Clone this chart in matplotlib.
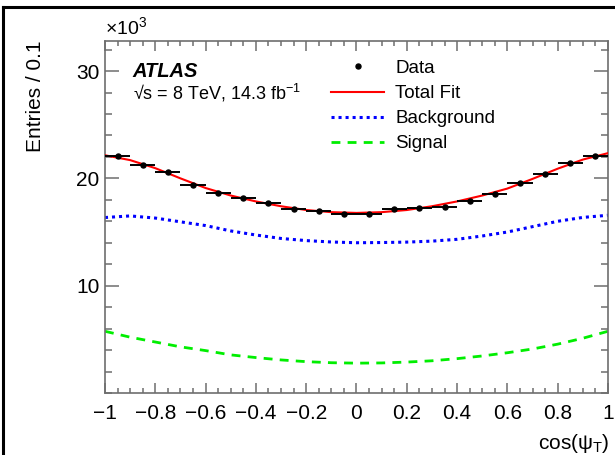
import matplotlib
matplotlib.use('Agg')
import matplotlib.pyplot as plt
from matplotlib.lines import Line2D
from matplotlib.ticker import FixedLocator, MultipleLocator

plt.rcParams['font.family'] = ['Liberation Sans', 'DejaVu Sans']
plt.rcParams['mathtext.fontset'] = 'custom'
plt.rcParams['mathtext.rm'] = 'Liberation Sans'
plt.rcParams['mathtext.it'] = 'Liberation Sans:italic'

# data points (bin centres, entries in units of 10^3)
bin_centres = [-0.95, -0.85, -0.75, -0.65, -0.55, -0.45, -0.35, -0.25, -0.15, -0.05,
               0.05, 0.15, 0.25, 0.35, 0.45, 0.55, 0.65, 0.75, 0.85, 0.95]
entries = [22.06, 21.27, 20.56, 19.40, 18.64, 18.15, 17.66, 17.19, 16.94, 16.69,
           16.67, 17.10, 17.22, 17.34, 17.90, 18.52, 19.54, 20.40, 21.42, 22.06]
entry_err = [0.13] * 20
bin_halfwidth = [0.05] * 20

# fit curves
curve_x = [-1.0, -0.9, -0.8, -0.7, -0.6, -0.5, -0.4, -0.3, -0.2, -0.1, 0.0,
           0.1, 0.2, 0.3, 0.4, 0.5, 0.6, 0.7, 0.8, 0.9, 1.0]
total_fit = [22.15, 21.70, 20.95, 20.00, 19.10, 18.40, 17.85, 17.40, 17.05, 16.85, 16.78,
             16.85, 17.05, 17.40, 17.85, 18.40, 19.05, 19.95, 20.90, 21.75, 22.35]
background = [16.35, 16.50, 16.30, 15.95, 15.60, 15.10, 14.72, 14.40, 14.20, 14.07, 14.00,
              14.02, 14.06, 14.15, 14.32, 14.63, 15.00, 15.50, 16.00, 16.36, 16.56]
signal = [5.75, 5.20, 4.75, 4.30, 3.95, 3.55, 3.30, 3.08, 2.92, 2.82, 2.78,
          2.80, 2.88, 3.00, 3.20, 3.45, 3.75, 4.10, 4.55, 5.10, 5.75]

x_ticks = [-1, -0.8, -0.6, -0.4, -0.2, 0, 0.2, 0.4, 0.6, 0.8, 1]
x_tick_labels = ['\u22121', '\u22120.8', '\u22120.6', '\u22120.4', '\u22120.2', '0',
                 '0.2', '0.4', '0.6', '0.8', '1']
y_ticks = [10, 20, 30]

fig = plt.figure(figsize=(6.15, 4.55), dpi=100)
ax = fig.add_axes([0.1707, 0.1363, 0.8179, 0.7736])

ax.errorbar(bin_centres, entries, xerr=bin_halfwidth, yerr=entry_err, fmt='o',
            color='black', ms=3.6, elinewidth=1.4, capsize=0, zorder=5)
ax.plot(curve_x, total_fit, color='#ff0000', lw=1.5, zorder=4)
ax.plot(curve_x, background, color='#0000ff', lw=2.2, linestyle=(0, (1.0, 1.3)))
ax.plot(curve_x, signal, color='#00ee00', lw=2.0, linestyle=(0, (3.2, 2.6)))

ax.set_xlim(-1, 1)
ax.set_ylim(0, 32.8)
ax.xaxis.set_major_locator(FixedLocator(x_ticks))
ax.set_xticklabels(x_tick_labels)
ax.xaxis.set_minor_locator(MultipleLocator(0.05))
ax.yaxis.set_major_locator(FixedLocator(y_ticks))
ax.yaxis.set_minor_locator(MultipleLocator(2))

gray = '#6e6e6e'
for s in ax.spines.values():
    s.set_color(gray)
    s.set_linewidth(1.2)
ax.tick_params(axis='both', which='both', direction='in', top=True, right=True,
               color=gray, width=1.1, labelsize=15, labelcolor='black')
ax.tick_params(axis='x', which='major', length=7.2, pad=8)
ax.tick_params(axis='x', which='minor', length=3.6)
ax.tick_params(axis='y', which='major', length=10, pad=4)
ax.tick_params(axis='y', which='minor', length=5)

ax.set_ylabel('Entries / 0.1', fontsize=15)
ax.yaxis.set_label_coords(-0.157, 1.0)
ax.yaxis.label.set_va('top')
ax.yaxis.label.set_ha('right')
ax.set_xlabel('cos(\u03c8$_{\\mathrm{T}}$)', fontsize=15)
ax.xaxis.set_label_coords(1.004, -0.143)
ax.xaxis.label.set_ha('right')
ax.xaxis.label.set_va('center')

ax.text(0.0, 1.008, r'$\times$10$^{3}$', transform=ax.transAxes, fontsize=14,
        ha='left', va='bottom')
ax.text(0.055, 0.912, 'ATLAS', transform=ax.transAxes, fontsize=14.5,
        fontweight='bold', fontstyle='italic', va='center')
ax.text(0.055, 0.853, '\u221as = 8 TeV, 14.3 fb$^{-1}$', transform=ax.transAxes,
        fontsize=13, va='center')

handles = [
    Line2D([], [], color='black', marker='o', ms=3.6, linestyle='none'),
    Line2D([], [], color='#ff0000', lw=1.5),
    Line2D([], [], color='#0000ff', lw=2.2, linestyle=(0, (1.0, 1.3))),
    Line2D([], [], color='#00ee00', lw=2.0, linestyle=(0, (3.2, 2.6))),
]
labels = ['Data', 'Total Fit', 'Background', 'Signal']
ax.legend(handles, labels, loc='upper left', bbox_to_anchor=(0.435, 0.968),
          frameon=False, fontsize=13.5, handlelength=2.8, handletextpad=0.6,
          labelspacing=0.43, borderaxespad=0)

# screenshot frame
fig.add_artist(Line2D([3 / 615, 1.0], [1 - 7 / 455, 1 - 7 / 455], color='black',
                      lw=2.2, transform=fig.transFigure))
fig.add_artist(Line2D([3 / 615, 3 / 615], [0.0, 1 - 7 / 455], color='black',
                      lw=2.2, transform=fig.transFigure))

fig.savefig('out.png', dpi=100)
